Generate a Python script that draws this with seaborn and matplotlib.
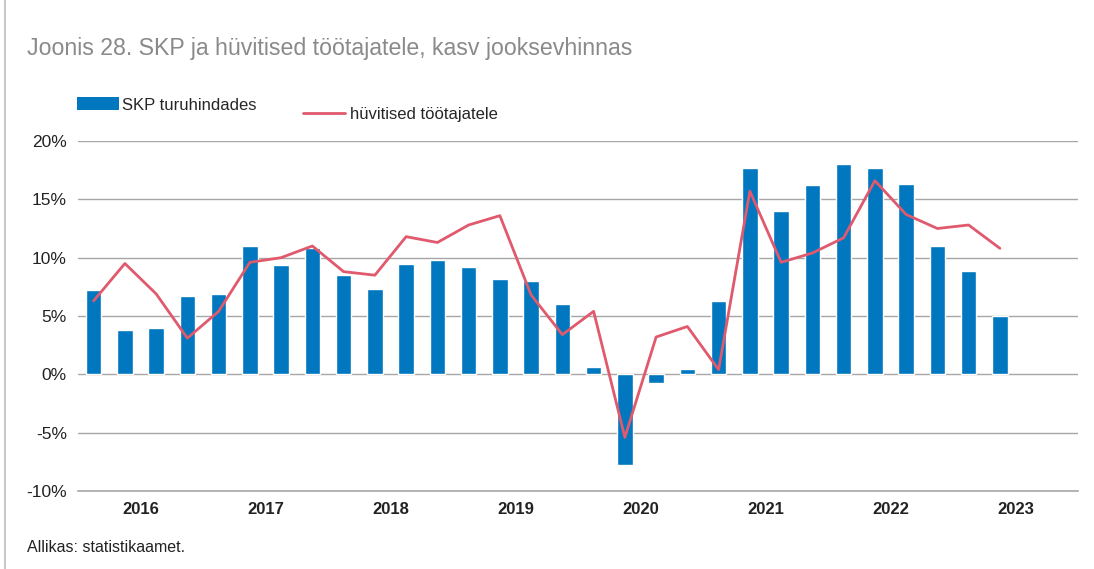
import numpy as np
import pandas as pd
import matplotlib
matplotlib.use("Agg")
import matplotlib.pyplot as plt
import seaborn as sns
from matplotlib.patches import Patch
from matplotlib.lines import Line2D

# quarterly data 2016Q1 .. 2023Q2
years = ["2016", "2017", "2018", "2019", "2020", "2021", "2022", "2023"]
skp = [7.2, 3.8, 4.0, 6.7,
       6.9, 11.0, 9.4, 10.8,
       8.5, 7.3, 9.5, 9.8,
       9.2, 8.2, 8.0, 6.0,
       0.6, -7.8, -0.7, 0.5,
       6.3, 17.7, 14.0, 16.2,
       18.0, 17.7, 16.3, 11.0,
       8.9, 5.0]
huvitised = [6.3, 9.5, 6.9, 3.1,
             5.4, 9.6, 10.0, 11.0,
             8.8, 8.5, 11.8, 11.3,
             12.8, 13.6, 6.8, 3.4,
             5.4, -5.4, 3.2, 4.1,
             0.4, 15.7, 9.6, 10.4,
             11.7, 16.6, 13.7, 12.5,
             12.8, 10.8]

df = pd.DataFrame({"q": np.arange(len(skp)), "skp": skp, "huv": huvitised})

blue = "#0077BE"
red = "#E0596C"
grid_c = "#a6a6a6"

sns.set_style("white")
plt.rcParams["font.family"] = ["Liberation Sans", "DejaVu Sans"]

fig = plt.figure(figsize=(10.94, 5.69), dpi=100)
W, H = 1094, 569
ax = fig.add_axes([78 / W, 1 - 491 / H, 1000 / W, 350 / H])

for v in np.arange(-5, 21, 5):
    ax.axhline(v, color=grid_c, lw=1.0, zorder=0)
sns.barplot(data=df, x="q", y="skp", native_scale=True, color=blue,
            width=0.5, saturation=1, ax=ax, zorder=3)
sns.lineplot(data=df, x="q", y="huv", color=red, lw=2.0, ax=ax, zorder=4)

ax.set_xlim(-0.5, 31.5)
ax.set_ylim(-10, 20)
yt = np.arange(-10, 21, 5)
ax.set_yticks(yt)
ax.set_yticklabels([f"{v}%" for v in yt], fontsize=12.5, color="#222222")

ax.set_xticks(np.arange(-0.5, 32, 4))
ax.set_xticklabels([])
ax.set_xticks(np.arange(1.5, 32, 4), minor=True)
ax.set_xticklabels(years, minor=True, fontsize=12, fontweight="bold", color="#222222")
ax.tick_params(axis="x", which="major", direction="in", length=7, color=grid_c, width=1.0)
ax.tick_params(axis="x", which="minor", length=0, pad=8)
ax.tick_params(axis="y", length=0, pad=8)
ax.set_xlabel("")
ax.set_ylabel("")
for s in ["left", "right", "top"]:
    ax.spines[s].set_visible(False)
ax.spines["bottom"].set_color(grid_c)
ax.spines["bottom"].set_linewidth(1.2)

fig.text(27 / W, 1 - 48 / H, "Joonis 28. SKP ja hüvitised töötajatele, kasv jooksevhinnas",
         fontsize=16.7, color="#8a8a8a", va="center")
fig.text(27 / W, 1 - 548 / H, "Allikas: statistikaamet.", fontsize=11.5,
         color="#222222", va="center")

# legend entries (second one sits a bit lower, as in the original)
fig.legend([Patch(facecolor=blue, edgecolor="none")], ["SKP turuhindades"],
           loc="center left", bbox_to_anchor=(62 / W, 1 - 105 / H),
           frameon=False, fontsize=12, handlelength=2.5, handleheight=0.8,
           handletextpad=0.2)
fig.legend([Line2D([0], [0], color=red, lw=2.0)], ["hüvitised töötajatele"],
           loc="center left", bbox_to_anchor=(288 / W, 1 - 114 / H),
           frameon=False, fontsize=12, handlelength=2.5, handletextpad=0.3)

# left frame line
fig.add_artist(Line2D([5 / W, 5 / W], [0, 1], color="#c8c8c8", lw=1.5,
                      transform=fig.transFigure))

fig.savefig("out.png", dpi=100)
